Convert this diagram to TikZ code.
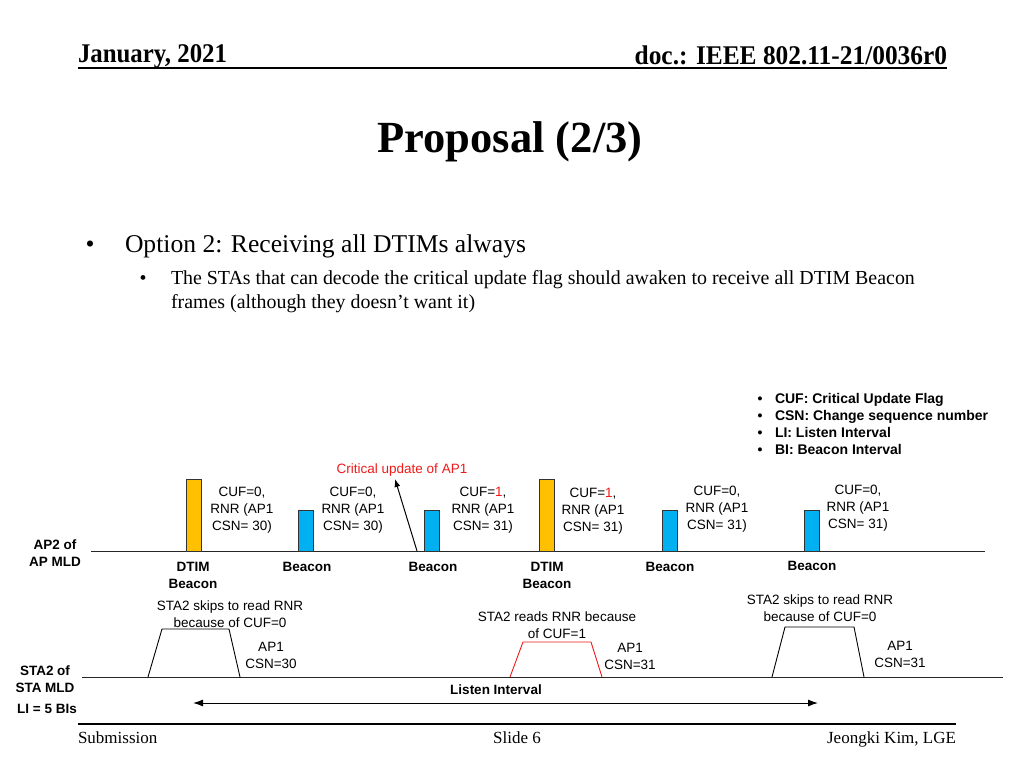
\documentclass[tikz,border=0pt]{standalone}
\usepackage{fontspec}
\setmainfont{Liberation Serif}
\newfontfamily\arial{Liberation Sans}
\usetikzlibrary{arrows.meta}
\definecolor{ybar}{HTML}{FFC000}
\definecolor{bbar}{HTML}{00B0F0}
\definecolor{cred}{HTML}{F01A1A}
\begin{document}
\begin{tikzpicture}[x=1pt,y=-1pt,
  every node/.style={inner sep=0pt, outer sep=0pt},
  hdr/.style={font=\fontsize{27}{30}\selectfont\bfseries},
  foot/.style={font=\fontsize{17}{20}\selectfont, anchor=base},
  lbl/.style={font=\arial\fontsize{13.5}{17}\selectfont, align=center},
  blbl/.style={font=\arial\bfseries\fontsize{13.5}{17}\selectfont, align=center},
  leg/.style={font=\arial\bfseries\fontsize{14}{17}\selectfont, anchor=base west},
  dtimbar/.style={draw=black!80, fill=ybar, minimum width=15pt, minimum height=72pt, anchor=south, line width=1pt},
  bcnbar/.style={draw=black!80, fill=bbar, minimum width=15pt, minimum height=41pt, anchor=south, line width=1pt},
  tline/.style={line width=1pt, black!85},
  trap/.style={line width=0.9pt, black},
  arr/.style={line width=1pt, black},
]
\fill[white] (0,0) rectangle (1024,768);
\useasboundingbox (0,0) rectangle (1024,768);

% header
\node[hdr, anchor=base west] (date) at (78,63) {\scalebox{0.92}[1]{January, 2021}};
\node[hdr, anchor=base east] (doc) at (947,64) {\scalebox{0.94}[1]{doc.: IEEE 802.11-21/0036r0}};
\draw[line width=2pt] (78,68) coordinate (hl) -- (947,68) coordinate (hr);

% title
\node[font=\bfseries\fontsize{44.5}{50}\selectfont, anchor=base] (title) at (510,152) {Proposal (2/3)};

% body
\node[font=\fontsize{25.6}{30}\selectfont, anchor=base] (bul1) at (90,252) {\textbullet};
\node[font=\fontsize{25.6}{30}\selectfont, anchor=base west] (opt) at (125,252) {Option 2: Receiving all DTIMs always};
\node[font=\fontsize{19.9}{24}\selectfont, anchor=base] (bul2) at (143,284) {\textbullet};
\node[font=\fontsize{19.9}{24}\selectfont, anchor=base west] (sub1) at (171,284) {The STAs that can decode the critical update flag should awaken to receive all DTIM Beacon};
\node[font=\fontsize{19.9}{24}\selectfont, anchor=base west] (sub2) at (171,308) {frames (although they doesn't want it)};

% legend
\foreach \y/\t [count=\i] in {403/{CUF: Critical Update Flag}, 420/{CSN: Change sequence number}, 437/{LI: Listen Interval}, 454/{BI: Beacon Interval}}{
  \node[leg, anchor=base] (lb\i) at (760,\y) {\textbullet};
  \node[leg] (lt\i) at (775,\y) {\t};
}

% AP2 timeline
\draw[tline] (91,551) coordinate (a0) -- (985,551) coordinate (a1);
\node[dtimbar] (d1) at (193.5,551) {};
\node[bcnbar] (c1) at (306,551) {};
\node[bcnbar] (c2) at (432,551) {};
\node[dtimbar] (d2) at (547,551) {};
\node[bcnbar] (c3) at (669.5,551) {};
\node[bcnbar] (c4) at (812,551) {};

\node[lbl] (t1) at (242,510) {CUF=0,\\RNR (AP1\\CSN= 30)};
\node[lbl] (t2) at (353,510) {CUF=0,\\RNR (AP1\\CSN= 30)};
\node[lbl] (t3) at (483,510) {CUF=\textcolor{cred}{1},\\RNR (AP1\\CSN= 31)};
\node[lbl] (t4) at (593,511) {CUF=\textcolor{cred}{1},\\RNR (AP1\\CSN= 31)};
\node[lbl] (t5) at (717,509) {CUF=0,\\RNR (AP1\\CSN= 31)};
\node[lbl] (t6) at (858,508) {CUF=0,\\RNR (AP1\\CSN= 31)};

\node[lbl, text=cred] (crit) at (402,470) {Critical update of AP1};
\coordinate (cs) at (417,551);
\coordinate (ct) at (395,479);
\draw[arr, -{Latex[length=8pt,width=6pt]}] (cs) -- (ct);

\node[blbl] (l1) at (193,575) {DTIM\\Beacon};
\node[blbl] (l2) at (307,567) {Beacon};
\node[blbl] (l3) at (433,567) {Beacon};
\node[blbl] (l4) at (547,575) {DTIM\\Beacon};
\node[blbl] (l5) at (670,567) {Beacon};
\node[blbl] (l6) at (812,566) {Beacon};

\node[blbl] (ap2) at (55,553) {AP2 of\\AP MLD};

% STA2 timeline
\draw[tline] (82,677) coordinate (s0) -- (1003,677) coordinate (s1);
\draw[trap] (148,677) -- (162,629) -- (229,629) -- (240,677);
\draw[trap, cred] (510,677) -- (523,642) -- (591,642) -- (602,677);
\draw[trap] (772,677) -- (785,627) -- (854,627) -- (864,677);

\node[lbl] (r1) at (230,614) {STA2 skips to read RNR\\because of CUF=0};
\node[lbl] (p1) at (271,655) {AP1\\CSN=30};
\node[lbl] (r2) at (557,625) {STA2 reads RNR because\\of CUF=1};
\node[lbl] (p2) at (630,656) {AP1\\CSN=31};
\node[lbl] (r3) at (820,608) {STA2 skips to read RNR\\because of CUF=0};
\node[lbl] (p3) at (900,654) {AP1\\CSN=31};

\node[blbl] (sta2) at (45,679) {STA2 of\\STA MLD};
\node[blbl] (li5) at (47,709) {LI = 5 BIs};

\node[blbl] (lint) at (496,690) {Listen Interval};
\coordinate (la) at (193,703);
\coordinate (lb) at (818,703);
\draw[arr, {Latex[length=10pt,width=7pt]}-{Latex[length=10pt,width=7pt]}] (la) -- (lb);

% footer
\draw[line width=1.5pt] (78,724) coordinate (fl) -- (956,724) coordinate (fr);
\node[foot, anchor=base west] (subm) at (78,743) {Submission};
\node[foot] (slide) at (517,743) {Slide 6};
\node[foot, anchor=base east] (auth) at (956,743) {Jeongki Kim, LGE};
\end{tikzpicture}
\end{document}
